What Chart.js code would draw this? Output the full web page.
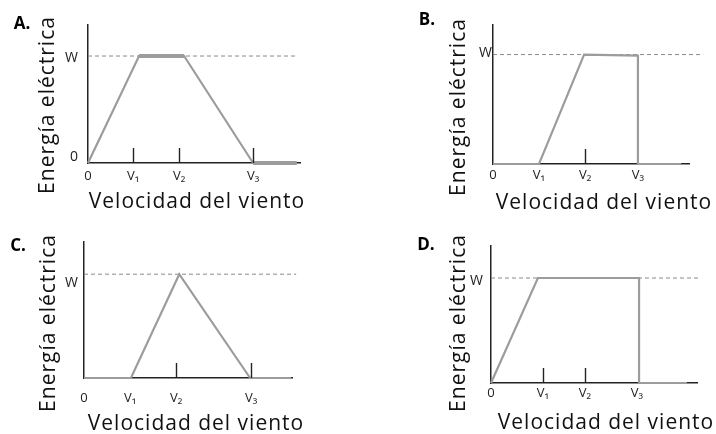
<!DOCTYPE html>
<html><head><meta charset="utf-8">
<script src="https://cdn.jsdelivr.net/npm/chart.js@4/dist/chart.umd.min.js"></script>
<style>
html,body{margin:0;padding:0;background:#fff;width:716px;height:434px;overflow:hidden;position:relative;}
canvas{position:absolute;}
</style></head><body>
<canvas id="cA" width="358" height="217" style="left:0;top:0"></canvas>
<canvas id="cB" width="358" height="217" style="left:358px;top:0"></canvas>
<canvas id="cC" width="358" height="217" style="left:0;top:217px"></canvas>
<canvas id="cD" width="358" height="217" style="left:358px;top:217px"></canvas>
<script>
// ---- data ----
const W = 1;                                   // rated power level
const xTickLabels = ['0', 'V₁', 'V₂', 'V₃'];   // wind speed tick labels
const xTitle = 'Velocidad del viento';
const yTitle = 'Energía eléctrica';

// Panel A
const aTicks = [0, 9.8, 19.8, 35.9];
const aMarks = [9.8, 19.8, 35.9];
const aSpeed = [0, 11.1, 20.9, 35.9, 45.4];
const aPower = [0, 1, 1, 0, 0];
const aThickSpeed = [11.1, 20.9, 28, 35.9, 45.4];
const aThickPower = [1, 1, null, 0, 0];
const aSpeedMax = 46.1, aPowerMax = 1.29, aRefEnd = 45.4;
const aYTicks = [0, W];
const aYLabels = ['0', 'W'];

// Panel B
const bTicks = [0, 10, 20, 31.5];
const bMarks = [20];
const bSpeed = [0, 10, 19.8, 31.5, 31.5, 40.9];
const bPower = [0, 0, 1, 0.99, 0, 0];
const bSpeedMax = 42.6, bPowerMax = 1.27, bRefEnd = 45.7;
const bYTicks = [W];
const bYLabels = ['W'];

// Panel C
const cTicks = [0, 10, 20, 36.3];
const cMarks = [20, 36.3];
const cSpeed = [0, 10.2, 20.7, 36.1, 45];
const cPower = [0, 0, 1, 0, 0];
const cSpeedMax = 45.2, cPowerMax = 1.31, cRefEnd = 46.1;
const cYTicks = [W];
const cYLabels = ['W'];

// Panel D
const dTicks = [0, 11.3, 20.4, 31.7];
const dMarks = [11.3, 20.4];
const dSpeed = [0, 10.2, 32.2, 32.2, 42.6];
const dPower = [0, 1, 1, 0, 0];
const dSpeedMax = 44.8, dPowerMax = 1.305, dRefEnd = 45.4;
const dYTicks = [W];
const dYLabels = ['W'];

// ---- drawing ----
const FONT = "'Open Sans', 'DejaVu Sans', sans-serif";
const LINE = '#9c9c9c';
const AXIS = '#222';

function pts(xs, ys) { return xs.map((x, i) => ({x: x, y: ys[i]})); }

const panelDecor = {
  id: 'panelDecor',
  afterDatasetsDraw(chart, args, o) {
    const {ctx, chartArea} = chart;
    const x = chart.scales.x;
    ctx.save();
    ctx.strokeStyle = AXIS;
    ctx.lineWidth = 1.4;
    o.marks.forEach(v => {
      const px = Math.round(x.getPixelForValue(v)) + 0.5;
      ctx.beginPath();
      ctx.moveTo(px, chartArea.bottom);
      ctx.lineTo(px, chartArea.bottom - o.markLen);
      ctx.stroke();
    });
    ctx.restore();
  },
  afterDraw(chart, args, o) {
    const ctx = chart.ctx;
    ctx.save();
    ctx.fillStyle = '#000';
    ctx.font = "bold 17px " + FONT;
    ctx.textAlign = 'center';
    ctx.textBaseline = 'middle';
    ctx.fillText(o.letter, o.letterPos[0], o.letterPos[1]);
    ctx.fillStyle = '#111';
    ctx.font = "21px " + FONT;
    if ('letterSpacing' in ctx) ctx.letterSpacing = '1px';
    ctx.textBaseline = 'alphabetic';
    ctx.fillText(xTitle, o.xTitlePos[0], o.xTitlePos[1]);
    ctx.translate(o.yTitlePos[0], o.yTitlePos[1]);
    ctx.rotate(-Math.PI / 2);
    ctx.textBaseline = 'middle';
    ctx.fillText(yTitle, 0, 0);
    ctx.restore();
  }
};

function makePanel(id, d, L) {
  const datasets = [
    {data: pts(d.speed, d.power), borderColor: LINE, borderWidth: 2.2, pointRadius: 0, clip: false, tension: 0, spanGaps: false},
  ];
  if (d.thickSpeed) {
    datasets.push({data: pts(d.thickSpeed, d.thickPower), borderColor: LINE, borderWidth: 4, pointRadius: 0, clip: false, spanGaps: false});
  }
  datasets.push({data: pts([0, d.refEnd], [W, W]), borderColor: '#8a8a8a', borderWidth: 1, borderDash: [4, 3], pointRadius: 0, clip: false});

  return new Chart(document.getElementById(id), {
    type: 'line',
    data: {datasets: datasets},
    options: {
      responsive: false, animation: false, devicePixelRatio: 1,
      layout: {padding: {left: 0, top: L.padTop, right: L.padRight, bottom: 0}},
      plugins: {
        legend: {display: false}, tooltip: {enabled: false}, title: {display: false},
        panelDecor: {marks: d.marks, markLen: 15, letter: L.letter, letterPos: L.letterPos, xTitlePos: L.xTitlePos, yTitlePos: L.yTitlePos}
      },
      scales: {
        x: {
          type: 'linear', min: 0, max: d.speedMax,
          afterBuildTicks: s => { s.ticks = d.ticks.map(v => ({value: v})); },
          afterFit: s => { s.height = L.xH; },
          ticks: {callback: (v, i) => xTickLabels[i], autoSkip: false, maxRotation: 0, minRotation: 0, padding: L.xPad, color: AXIS, font: {family: FONT, size: 13}},
          grid: {display: false, drawTicks: false},
          border: {display: true, color: AXIS, width: 1.5}
        },
        y: {
          type: 'linear', min: 0, max: d.powerMax,
          afterBuildTicks: s => { s.ticks = d.yTicks.map(v => ({value: v})); },
          afterFit: s => { s.width = L.yW; },
          ticks: {callback: (v, i) => d.yLabels[i] === '0' ? ['0', ''] : d.yLabels[i], padding: L.yPad, labelOffset: L.yLabelOffset, color: AXIS, font: {family: FONT, size: 14}},
          grid: {display: false, drawTicks: false},
          border: {display: true, color: AXIS, width: 1.5}
        }
      }
    },
    plugins: [panelDecor]
  });
}

makePanel('cA',
  {ticks: aTicks, marks: aMarks, speed: aSpeed, power: aPower, thickSpeed: aThickSpeed, thickPower: aThickPower, speedMax: aSpeedMax, powerMax: aPowerMax, refEnd: aRefEnd, yTicks: aYTicks, yLabels: aYLabels},
  {padTop: 25, padRight: 58, yW: 88, xH: 54, xPad: 5, yPad: 10, yLabelOffset: 2, letter: 'A.', letterPos: [22, 24], yTitlePos: [48.5, 105], xTitlePos: [197, 208]});
makePanel('cB',
  {ticks: bTicks, marks: bMarks, speed: bSpeed, power: bPower, speedMax: bSpeedMax, powerMax: bPowerMax, refEnd: bRefEnd, yTicks: bYTicks, yLabels: bYLabels},
  {padTop: 25, padRight: 27, yW: 135, xH: 53, xPad: 3, yPad: 1, yLabelOffset: -2, letter: 'B.', letterPos: [69, 20], yTitlePos: [101, 107], xTitlePos: [246, 209]});
makePanel('cC',
  {ticks: cTicks, marks: cMarks, speed: cSpeed, power: cPower, speedMax: cSpeedMax, powerMax: cPowerMax, refEnd: cRefEnd, yTicks: cYTicks, yLabels: cYLabels},
  {padTop: 25, padRight: 66, yW: 84, xH: 56, xPad: 12, yPad: 6, yLabelOffset: 9, letter: 'C.', letterPos: [18, 29], yTitlePos: [49, 106], xTitlePos: [196, 213]});
makePanel('cD',
  {ticks: dTicks, marks: dMarks, speed: dSpeed, power: dPower, speedMax: dSpeedMax, powerMax: dPowerMax, refEnd: dRefEnd, yTicks: dYTicks, yLabels: dYLabels},
  {padTop: 29, padRight: 19, yW: 133, xH: 51, xPad: 2, yPad: 8, yLabelOffset: 3, letter: 'D.', letterPos: [68, 28], yTitlePos: [101, 106], xTitlePos: [248, 212]});
</script>
</body></html>
